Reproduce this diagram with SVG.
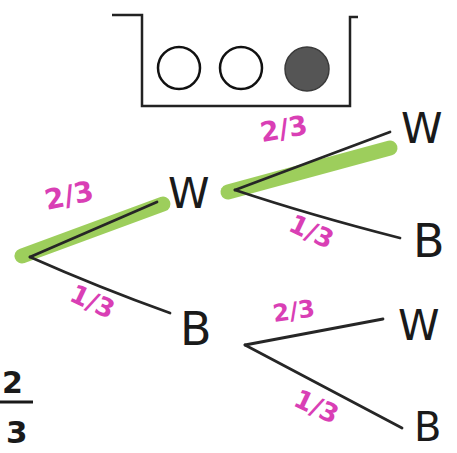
<svg xmlns="http://www.w3.org/2000/svg" width="457" height="453" viewBox="0 0 457 453">
<style>
.edge{fill:none;stroke:#262626;stroke-width:2.8;stroke-linecap:round}
.hl{fill:none;stroke:#8cc63f;stroke-width:15;stroke-linecap:round;opacity:0.85}
.box{fill:none;stroke:#222;stroke-width:2.5}
.lbl{font-family:"DejaVu Sans","Liberation Sans",sans-serif;fill:#1a1a1a}
.p{font-family:"DejaVu Sans","Liberation Sans",sans-serif;fill:#d93fb5;font-weight:bold}
.f{font-family:"DejaVu Sans","Liberation Sans",sans-serif;fill:#1a1a1a;font-weight:bold}
</style>
<rect width="457" height="453" fill="#fff"/>
<g id="urn">
<polyline class="box" points="112,15 142,15 142,106 350,106 350,17 358,17"/>
<circle cx="179" cy="68" r="21" fill="#fff" stroke="#111" stroke-width="2.5"/>
<circle cx="241" cy="68" r="21" fill="#fff" stroke="#111" stroke-width="2.5"/>
<circle cx="307" cy="69" r="22" fill="#555" stroke="#3a3a3a" stroke-width="1.5"/>
</g>
<g id="highlights">
<path class="hl" d="M22,256 L163,204"/>
<path class="hl" d="M228,192 L390,148"/>
</g>
<g id="connectors">
<path class="edge" d="M30,257 L157,202"/>
<path class="edge" d="M30,257 Q100,288 170,313"/>
<path class="edge" d="M235,190 L390,132"/>
<path class="edge" d="M235,190 Q310,215 400,238"/>
<path class="edge" d="M245,345 L383,319"/>
<path class="edge" d="M245,345 Q320,385 402,428"/>
</g>
<g id="probs">
<text class="p" font-size="28" transform="translate(47,210) rotate(-12)">2/3</text>
<text class="p" font-size="26" transform="translate(68,300) rotate(25)">1/3</text>
<text class="p" font-size="27" transform="translate(262,142) rotate(-10)">2/3</text>
<text class="p" font-size="26" transform="translate(287,230) rotate(25)">1/3</text>
<text class="p" font-size="24" transform="translate(274,322) rotate(-8)">2/3</text>
<text class="p" font-size="26" transform="translate(292,405) rotate(25)">1/3</text>
</g>
<g id="node-W1"><text class="lbl" x="168" y="208" font-size="42">W</text></g>
<g id="node-B1"><text class="lbl" x="180" y="345" font-size="46">B</text></g>
<g id="node-W2"><text class="lbl" x="401" y="143" font-size="42">W</text></g>
<g id="node-B2"><text class="lbl" x="413" y="257" font-size="46">B</text></g>
<g id="node-W3"><text class="lbl" x="398" y="340" font-size="42">W</text></g>
<g id="node-B3"><text class="lbl" x="414" y="441" font-size="40">B</text></g>
<g id="fraction">
<text class="f" x="2" y="393" font-size="30">2</text>
<line x1="0" y1="402" x2="33" y2="402" stroke="#1a1a1a" stroke-width="3"/>
<text class="f" x="6" y="443" font-size="31">3</text>
</g>
</svg>
